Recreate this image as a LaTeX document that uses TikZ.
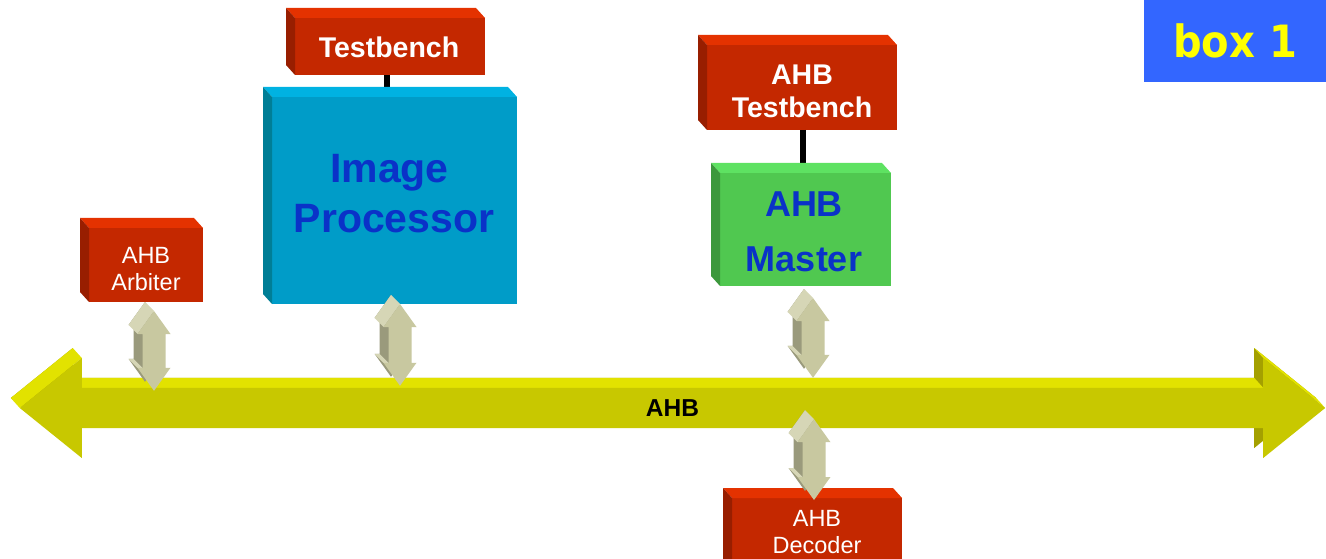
\documentclass[tikz,border=0pt]{standalone}
\usepackage{fontspec}
\setmainfont{Liberation Sans}
\newfontfamily\tagfont[FakeStretch=0.9]{DejaVu Sans}
\usetikzlibrary{calc,backgrounds}

% block colours: front, top, side
\definecolor{redF}{RGB}{196,40,0}
\definecolor{redT}{RGB}{228,50,0}
\definecolor{redS}{RGB}{152,30,0}
\definecolor{cyanF}{RGB}{0,156,200}
\definecolor{cyanT}{RGB}{0,178,226}
\definecolor{cyanS}{RGB}{0,126,150}
\definecolor{grnF}{RGB}{80,200,80}
\definecolor{grnT}{RGB}{94,226,98}
\definecolor{grnS}{RGB}{60,152,60}
\definecolor{busF}{RGB}{200,200,0}
\definecolor{busT}{RGB}{226,226,0}
\definecolor{busS}{RGB}{164,160,0}
\definecolor{khF}{RGB}{200,200,160}
\definecolor{khT}{RGB}{214,214,182}
\definecolor{khS}{RGB}{154,154,124}
\definecolor{inkblue}{RGB}{10,50,200}
\definecolor{tagblue}{RGB}{51,102,255}
\definecolor{tagyellow}{RGB}{255,255,0}

% top and left faces of an extruded block node
\newcommand\slabfaces[3]{%
  \fill[#2] (#1.north west) -- ++(-9,10) -- ([shift={(-9,10)}]#1.north east) -- (#1.north east) -- cycle;
  \fill[#3] (#1.north west) -- ++(-9,10) -- ([shift={(-9,10)}]#1.south west) -- (#1.south west) -- cycle;
}

% outline of a vertical double-headed arrow between two tips
\newcommand\bipath[2]{(#1) -- ([shift={(16.5,-23)}]#1) -- ([shift={(11.5,-23)}]#1)
  -- ([shift={(11.5,23)}]#2) -- ([shift={(16.5,23)}]#2) -- (#2)
  -- ([shift={(-16.5,23)}]#2) -- ([shift={(-11.5,23)}]#2)
  -- ([shift={(-11.5,-23)}]#1) -- ([shift={(-16.5,-23)}]#1) -- cycle}

% extruded double arrow from tip #1 (top) to tip #2 (bottom)
\newcommand\biarrow[2]{%
  \path (#1) ++(-9,9) coordinate (#1b);
  \path (#2) ++(-9,9) coordinate (#2b);
  \fill[khS] \bipath{#1b}{#2b};
  \fill[khT] (#1) -- ([shift={(-16.5,-23)}]#1) -- ([shift={(-16.5,-23)}]#1b) -- (#1b) -- cycle;
  \fill[khT] ([shift={(-16.5,23)}]#2) -- ([shift={(-11.5,23)}]#2) -- ([shift={(-11.5,23)}]#2b) -- ([shift={(-16.5,23)}]#2b) -- cycle;
  \fill[khF] \bipath{#1}{#2};
}

% outline of the bus arrow, offset by (#1,#2)
\newcommand\buspath[2]{([shift={(-62+#1,#2)}]bus.west) -- ([shift={(#1,50+#2)}]bus.west)
  -- ([shift={(#1,#2)}]bus.north west) -- ([shift={(#1,#2)}]bus.north east)
  -- ([shift={(#1,50+#2)}]bus.east) -- ([shift={(62+#1,#2)}]bus.east)
  -- ([shift={(#1,-50+#2)}]bus.east) -- ([shift={(#1,#2)}]bus.south east)
  -- ([shift={(#1,#2)}]bus.south west) -- ([shift={(#1,-50+#2)}]bus.west) -- cycle}

\begin{document}
\begin{tikzpicture}[x=1pt,y=1pt,
  slab/.style={inner sep=0pt, outer sep=0pt, draw=none},
  redslab/.style={slab, fill=redF},
  caption/.style={inner sep=0pt, outer sep=0pt, align=center},
  whitebold/.style={caption, text=white, font=\bfseries\fontsize{28.5}{33}\selectfont},
  whiteplain/.style={caption, text=white, font=\fontsize{23.5}{26.5}\selectfont},
  bluecaption/.style={caption, text=inkblue},
  wire/.style={line width=6pt, black}
]
\useasboundingbox (0,0) rectangle (1326,558);
\clip (0,0) rectangle (1326,558);

% front faces of the blocks
\node[redslab, minimum width=190pt, minimum height=57pt] (tb) at (390,511.5) {};
\node[slab, fill=cyanF, minimum width=245pt, minimum height=207pt] (ip) at (394.5,357.5) {};
\node[redslab, minimum width=190pt, minimum height=85pt] (atb) at (802,470.5) {};
\node[slab, fill=grnF, minimum width=171pt, minimum height=113pt] (am) at (805.5,328.5) {};
\node[redslab, minimum width=114pt, minimum height=74pt] (arb) at (146,293) {};
\node[redslab, minimum width=170pt, minimum height=80pt] (dec) at (817,20) {};

% testbench wires
\path ([xshift=-3pt]tb.south) coordinate (w1);
\draw[wire] (w1) -- (w1 |- ip.north);
\path ([xshift=1pt]atb.south) coordinate (w2);
\draw[wire] (w2) -- (w2 |- am.north);

% block depth
\slabfaces{tb}{redT}{redS}
\slabfaces{ip}{cyanT}{cyanS}
\slabfaces{atb}{redT}{redS}
\slabfaces{am}{grnT}{grnS}
\slabfaces{arb}{redT}{redS}
\slabfaces{dec}{redT}{redS}

% block captions
\node[whitebold] (tbText) at (389,511) {Testbench};
\node[bluecaption, font=\bfseries\fontsize{41}{50}\selectfont] (ipText) at (394,364.7) {Image\kern9pt\\Processor};
\node[whitebold] (atbText) at (802,466.5) {AHB\\Testbench};
\node[bluecaption, font=\bfseries\fontsize{36}{55}\selectfont] (amText) at (804,326.4) {AHB\\Master};
\node[whiteplain] (arbText) at (146,289.2) {AHB\\Arbiter};
\node[whiteplain] (decText) at (817,26.1) {AHB\\Decoder};

% AHB bus
\node[minimum width=1181pt, minimum height=40pt, inner sep=0pt,
      font=\bfseries\fontsize{24.5}{28}\selectfont] (bus) at (672.5,150) {AHB};
\begin{scope}[on background layer]
  \fill[busS] \buspath{-9}{10};
  \fill[busT] (bus.north west) -- (bus.north east) -- ++(-9,10) -- ([shift={(-9,10)}]bus.north west) -- cycle;
  \fill[busT] ([xshift=-62pt]bus.west) -- ([yshift=50pt]bus.west) -- ++(-9,10) -- ([shift={(-71,10)}]bus.west) -- cycle;
  \fill[busT] ([yshift=50pt]bus.east) -- ([xshift=62pt]bus.east) -- ++(-9,10) -- ([shift={(-9,60)}]bus.east) -- cycle;
  \fill[busF] \buspath{0}{0};
\end{scope}

% bus links
\path ([shift={(8,-9)}]arb.south) coordinate (a1);
\path (a1 |- bus.north) ++(0,-3) coordinate (a2);
\biarrow{a1}{a2}
\path ([xshift=5.5pt]ip.south) coordinate (b1);
\path (b1 |- bus.north) ++(0,2) coordinate (b2);
\biarrow{b1}{b2}
\path ([shift={(7.5,-12)}]am.south) coordinate (c1);
\path (c1 |- bus.north) ++(0,10) coordinate (c2);
\biarrow{c1}{c2}
\path ([shift={(-3,-2)}]dec.north) coordinate (d2);
\path (d2 |- bus.south) ++(0,9) coordinate (d1);
\biarrow{d1}{d2}

% tag
\node[fill=tagblue, minimum width=182pt, minimum height=82pt, inner sep=0pt,
      text=tagyellow, font=\tagfont\bfseries\fontsize{44.5}{50}\selectfont] (tag) at (1235,517) {box 1};
\end{tikzpicture}
\end{document}
